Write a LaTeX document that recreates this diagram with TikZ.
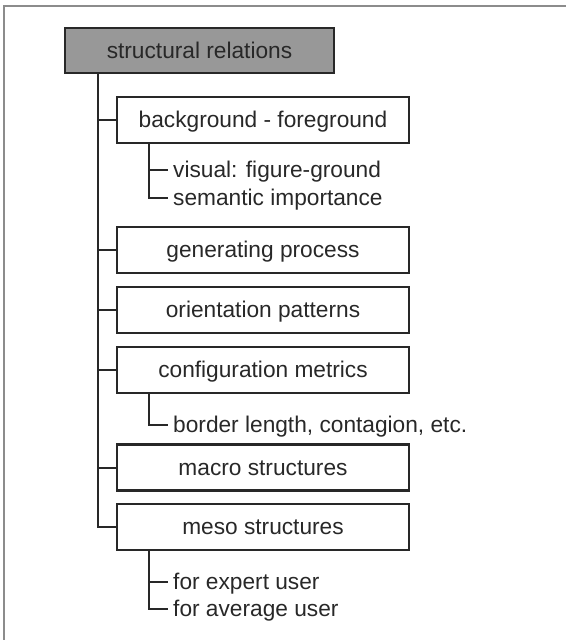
\documentclass[tikz,border=0pt]{standalone}
\usepackage{fontspec}
\setmainfont{Liberation Sans}
\begin{document}
\definecolor{inkgray}{RGB}{40,40,40}
\definecolor{headfill}{RGB}{152,152,152}
\definecolor{framegray}{RGB}{140,140,140}
\begin{tikzpicture}[x=1pt,y=-1pt,
  font=\fontsize{22.7}{27}\selectfont,
  every node/.style={text=inkgray},
  topicbox/.style={draw=inkgray, line width=2.3pt, rectangle, inner sep=0pt,
    minimum width=292pt, minimum height=46pt, text height=20.4pt, text depth=4.5pt},
  headbox/.style={topicbox, fill=headfill, minimum width=269pt, minimum height=45pt},
  subitem/.style={anchor=base west, inner sep=0pt},
  link/.style={draw=inkgray, line width=2pt},
  tick/.style={yshift=7pt}]
\useasboundingbox (0,0) rectangle (566,640);
% open frame: left and top edges only
\draw[framegray, line width=2pt] (4,640) -- (4,5.5) -- (566,5.5);

% head and topic boxes
\node[headbox] (head) at (199.5,50.5) {structural relations};
\node[topicbox] (bg)    at (263,120) {background - foreground};
\node[topicbox] (gen)   at (263,250) {generating process};
\node[topicbox] (orient) at (263,310) {orientation patterns};
\node[topicbox] (config) at (263,370) {configuration metrics};
\node[topicbox] (macro) at (263,467.5) {macro structures};
\node[topicbox] (meso)  at (263,527) {meso structures};

% sub items, placed by their baselines
\node[subitem] (vis)    at (173,177) {visual: figure-ground};
\node[subitem] (sem)    at (173,205) {semantic importance};
\node[subitem] (border) at (173,432) {border length, contagion, etc.};
\node[subitem] (expert) at (173,589) {for expert user};
\node[subitem] (avg)    at (173,616) {for average user};

% main trunk
\coordinate (trunk) at (98,0);
\draw[link] (head.south -| trunk) |- (meso.west);
\foreach \b in {bg,gen,orient,config,macro}
  \draw[link] (\b.west -| trunk) -- (\b.west);

% secondary branches
\coordinate (sub) at (149,0);
\coordinate (tip) at (168,0);
\draw[link] (bg.south -| sub) |- ([tick]sem.base west -| tip);
\draw[link] ([tick]vis.base west -| sub) -- ([tick]vis.base west -| tip);
\draw[link] (config.south -| sub) |- ([tick]border.base west -| tip);
\draw[link] (meso.south -| sub) |- ([tick]avg.base west -| tip);
\draw[link] ([tick]expert.base west -| sub) -- ([tick]expert.base west -| tip);
\end{tikzpicture}
\end{document}
